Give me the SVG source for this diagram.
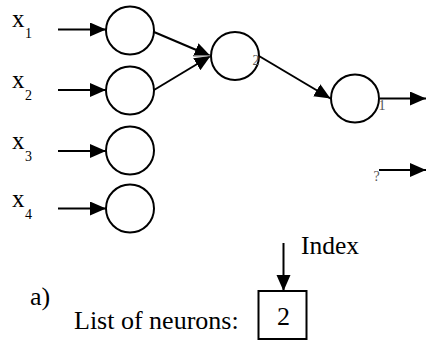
<svg xmlns="http://www.w3.org/2000/svg" width="426" height="342" viewBox="0 0 426 342">
<style>
.n{fill:#fff;stroke:#000;stroke-width:2}
.c{stroke:#000;stroke-width:2;fill:none}
text{font-family:'Liberation Serif',serif}
.t{fill:#000}
.g{fill:#555;font-size:14px}
</style>
<defs>
<marker id="ah" markerUnits="userSpaceOnUse" markerWidth="18" markerHeight="15" refX="16" refY="7" orient="auto">
<path d="M0,0 L16,7 L0,14 z" fill="#000"/>
</marker>
</defs>
<g id="connectors">
<line class="c" x1="58" y1="29.5" x2="106" y2="29.5" marker-end="url(#ah)"/>
<line class="c" x1="58" y1="90" x2="106" y2="90" marker-end="url(#ah)"/>
<line class="c" x1="58" y1="151" x2="106" y2="151" marker-end="url(#ah)"/>
<line class="c" x1="58" y1="208.5" x2="106" y2="208.5" marker-end="url(#ah)"/>
<line class="c" x1="154" y1="32" x2="210.5" y2="56" marker-end="url(#ah)"/>
<line class="c" x1="154" y1="90" x2="210.5" y2="56" marker-end="url(#ah)"/>
<line class="c" x1="259" y1="56" x2="330.5" y2="98.5" marker-end="url(#ah)"/>
<line class="c" x1="380" y1="98.5" x2="426" y2="98.5" marker-end="url(#ah)"/>
<line class="c" x1="379" y1="170" x2="426" y2="170" marker-end="url(#ah)"/>
<line class="c" x1="283.5" y1="243" x2="283.5" y2="291" marker-end="url(#ah)"/>
<line x1="194" y1="55.7" x2="210" y2="55.7" stroke="#888" stroke-width="1.2"/>
</g>
<g id="input1"><circle class="n" cx="130" cy="30.5" r="24"/>
<text class="t" x="12" y="26.7" font-size="25">x</text><text class="t" x="25" y="38.3" font-size="14">1</text></g>
<g id="input2"><circle class="n" cx="130" cy="90.5" r="24"/>
<text class="t" x="12" y="88" font-size="25">x</text><text class="t" x="25" y="99.5" font-size="14">2</text></g>
<g id="input3"><circle class="n" cx="130" cy="150.5" r="24"/>
<text class="t" x="12" y="149" font-size="25">x</text><text class="t" x="25" y="160.5" font-size="14">3</text></g>
<g id="input4"><circle class="n" cx="130" cy="208.5" r="24"/>
<text class="t" x="12" y="207" font-size="25">x</text><text class="t" x="25" y="218.5" font-size="14">4</text></g>
<g id="hidden"><circle class="n" cx="235" cy="56" r="24"/>
<text class="g" x="252.5" y="65">2</text></g>
<g id="output"><circle class="n" cx="355" cy="98.5" r="24"/>
<text class="g" x="378.5" y="109.5">1</text></g>
<g id="unknown"><text class="g" x="373.5" y="180.5">?</text></g>
<g id="index"><text class="t" x="301" y="253.5" font-size="25.5">Index</text></g>
<g id="list">
<text class="t" x="30" y="305" font-size="26">a)</text>
<text class="t" x="74" y="329" font-size="26">List of neurons:</text>
<rect x="258.5" y="291" width="48" height="48" fill="#fff" stroke="#000" stroke-width="2"/>
<text class="t" x="283.5" y="325" font-size="26" text-anchor="middle">2</text>
</g>
</svg>
